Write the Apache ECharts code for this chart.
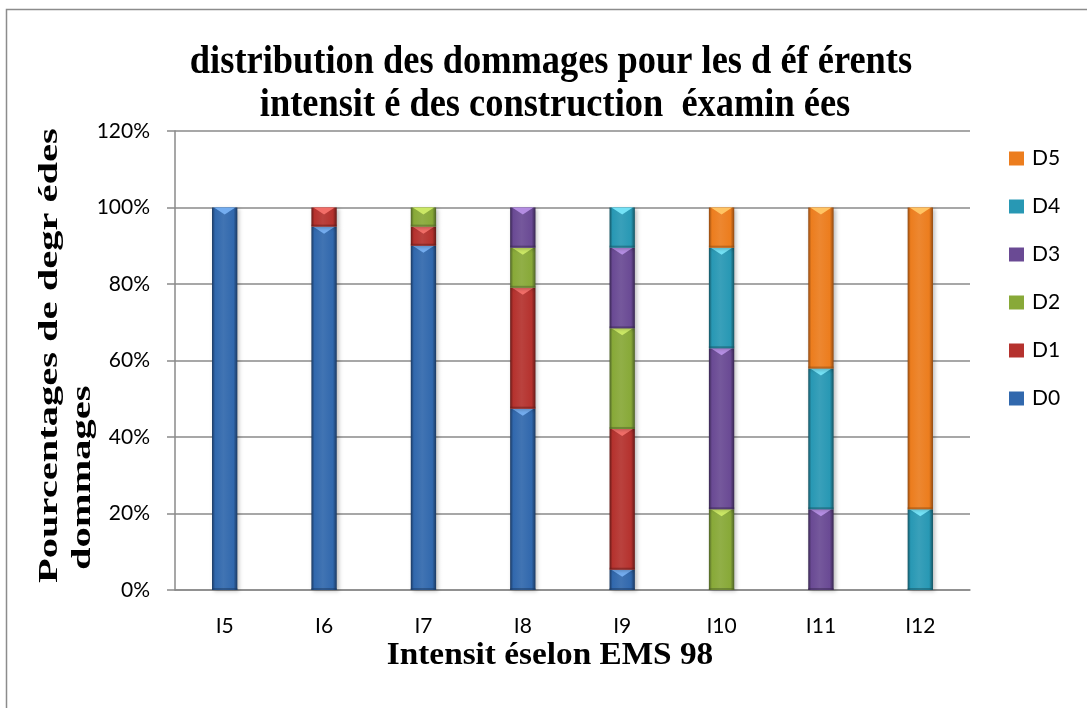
<!DOCTYPE html>
<html>
<head>
<meta charset="utf-8">
<title>distribution des dommages</title>
<script src="https://cdn.jsdelivr.net/npm/echarts@6/dist/echarts.min.js"></script>
<style>
  html, body { margin: 0; padding: 0; background: #fff; }
  #chart { width: 1087px; height: 708px; }
</style>
</head>
<body>
<div id="chart"></div>
<script>
// Intensity classes (EMS 98) and damage grades
const categories = ['I5', 'I6', 'I7', 'I8', 'I9', 'I10', 'I11', 'I12'];
const grades = ['D0', 'D1', 'D2', 'D3', 'D4', 'D5'];

// Share of buildings (%) per damage grade, one value per intensity
const d0 = [100, 95, 90, 47.4, 5.3, 0, 0, 0];
const d1 = [0, 5, 5, 31.6, 36.8, 0, 0, 0];
const d2 = [0, 0, 5, 10.5, 26.3, 21.1, 0, 0];
const d3 = [0, 0, 0, 10.5, 21.1, 42.1, 21.1, 0];
const d4 = [0, 0, 0, 0, 10.5, 26.3, 36.8, 21.1];
const d5 = [0, 0, 0, 0, 0, 10.5, 42.1, 78.9];
const gradeValues = [d0, d1, d2, d3, d4, d5];

// Bevelled column palette: base, highlight, edge
const palette = [
  ['#3168AD', '#74ADF0', '#1B3961'],
  ['#B5322E', '#F26E68', '#651A17'],
  ['#88A938', '#CBE865', '#4E6227'],
  ['#6A4A94', '#B48DE2', '#372650'],
  ['#2898B4', '#74E2F6', '#145362'],
  ['#EC7D1E', '#FFC464', '#914910']
];

const serif = 'Liberation Serif';
const sans = 'Lato';

const chart = echarts.init(document.getElementById('chart'));

// Build stacked segments [category, bottom, top, value]
const running = categories.map(() => 0);
const series = grades.map((name, g) => {
  const data = gradeValues[g].map((v, i) => {
    const bottom = running[i];
    running[i] += v;
    return [i, bottom, running[i], v];
  });
  const [base, light, edge] = palette[g];
  return {
    name: name,
    type: 'custom',
    itemStyle: { color: base },
    encode: { x: 0, y: 2 },
    data: data,
    z: 3,
    renderItem: function (params, api) {
      const v = api.value(3);
      if (!v) return null;
      const cat = api.value(0);
      const pTop = api.coord([cat, api.value(2)]);
      const pBot = api.coord([cat, api.value(1)]);
      const w = api.size([1, 0])[0] * 0.255;
      const x0 = pTop[0] - w / 2;
      const y0 = pTop[1];
      const h = pBot[1] - pTop[1];
      const tri = Math.min(7, h * 0.45);
      return {
        type: 'group',
        children: [
          {
            type: 'rect',
            shape: { x: x0, y: y0, width: w, height: h },
            style: {
              fill: new echarts.graphic.LinearGradient(0, 0, 1, 0, [
                { offset: 0, color: edge },
                { offset: 0.12, color: base },
                { offset: 0.45, color: echarts.color.lift(base, 0.08) },
                { offset: 0.85, color: base },
                { offset: 1, color: edge }
              ]),
              shadowBlur: 4,
              shadowOffsetX: 2,
              shadowOffsetY: 1,
              shadowColor: 'rgba(0,0,0,0.25)'
            }
          },
          {
            type: 'polygon',
            shape: { points: [[x0 + 2, y0], [x0 + w - 2, y0], [x0 + w / 2, y0 + tri]] },
            style: { fill: light }
          },
          {
            type: 'rect',
            shape: { x: x0, y: y0 + h - 2, width: w, height: 2 },
            style: { fill: edge, opacity: 0.5 }
          }
        ]
      };
    }
  };
});

chart.setOption({
  backgroundColor: '#fff',
  animation: false,
  legend: {
    orient: 'vertical',
    left: 1004,
    top: 143,
    itemWidth: 15,
    itemHeight: 14,
    itemGap: 27,
    icon: 'rect',
    data: ['D5', 'D4', 'D3', 'D2', 'D1', 'D0'],
    textStyle: { fontFamily: sans, fontSize: 21, color: '#000', padding: [0, 0, 0, 3] }
  },
  grid: { left: 175, right: 117, top: 131, bottom: 118 },
  xAxis: {
    type: 'category',
    data: categories,
    axisLine: { lineStyle: { color: '#8a8a8a', width: 1.5 } },
    axisTick: { show: false },
    axisLabel: { fontFamily: sans, fontSize: 21, color: '#000', margin: 26 }
  },
  yAxis: {
    type: 'value',
    min: 0,
    max: 120,
    interval: 20,
    axisLine: { show: true, lineStyle: { color: '#8a8a8a', width: 1.5 } },
    axisTick: { show: true, length: 8, lineStyle: { color: '#8a8a8a', width: 1.5 } },
    splitLine: { lineStyle: { color: '#8a8a8a', width: 1.5 } },
    axisLabel: { fontFamily: sans, fontSize: 21, color: '#000', margin: 25, formatter: '{value}%' }
  },
  graphic: [
    {
      type: 'rect',
      left: 4, top: 7,
      shape: { width: 1200, height: 800 },
      style: { fill: 'none', stroke: '#8c8c8c', lineWidth: 1.5 },
      silent: true, z: -1
    },
    // chart title, two lines
    {
      type: 'text',
      x: 551, y: 63,
      scaleX: 0.91,
      style: {
        text: 'distribution des dommages pour les d éf érents',
        fontFamily: serif, fontWeight: 'bold', fontSize: 40,
        fill: '#000', textAlign: 'center', textVerticalAlign: 'middle'
      }
    },
    {
      type: 'text',
      x: 555, y: 106,
      scaleX: 0.91,
      style: {
        text: 'intensit é des construction  éxamin ées',
        fontFamily: serif, fontWeight: 'bold', fontSize: 40,
        fill: '#000', textAlign: 'center', textVerticalAlign: 'middle'
      }
    },
    // x axis title
    {
      type: 'text',
      x: 550, y: 656,
      scaleX: 1.04,
      style: {
        text: 'Intensit éselon EMS 98',
        fontFamily: serif, fontWeight: 'bold', fontSize: 32,
        fill: '#000', textAlign: 'center', textVerticalAlign: 'middle'
      }
    },
    // y axis title, two lines reading upwards
    {
      type: 'text',
      x: 50, y: 583,
      rotation: Math.PI / 2,
      scaleX: 1.5,
      style: {
        text: 'Pourcentages de degr édes',
        fontFamily: serif, fontWeight: 'bold', fontSize: 27,
        fill: '#000', textAlign: 'left', textVerticalAlign: 'middle'
      }
    },
    {
      type: 'text',
      x: 83, y: 570,
      rotation: Math.PI / 2,
      scaleX: 1.5,
      style: {
        text: 'dommages',
        fontFamily: serif, fontWeight: 'bold', fontSize: 27,
        fill: '#000', textAlign: 'left', textVerticalAlign: 'middle'
      }
    }
  ],
  series: series
});
</script>
</body>
</html>
